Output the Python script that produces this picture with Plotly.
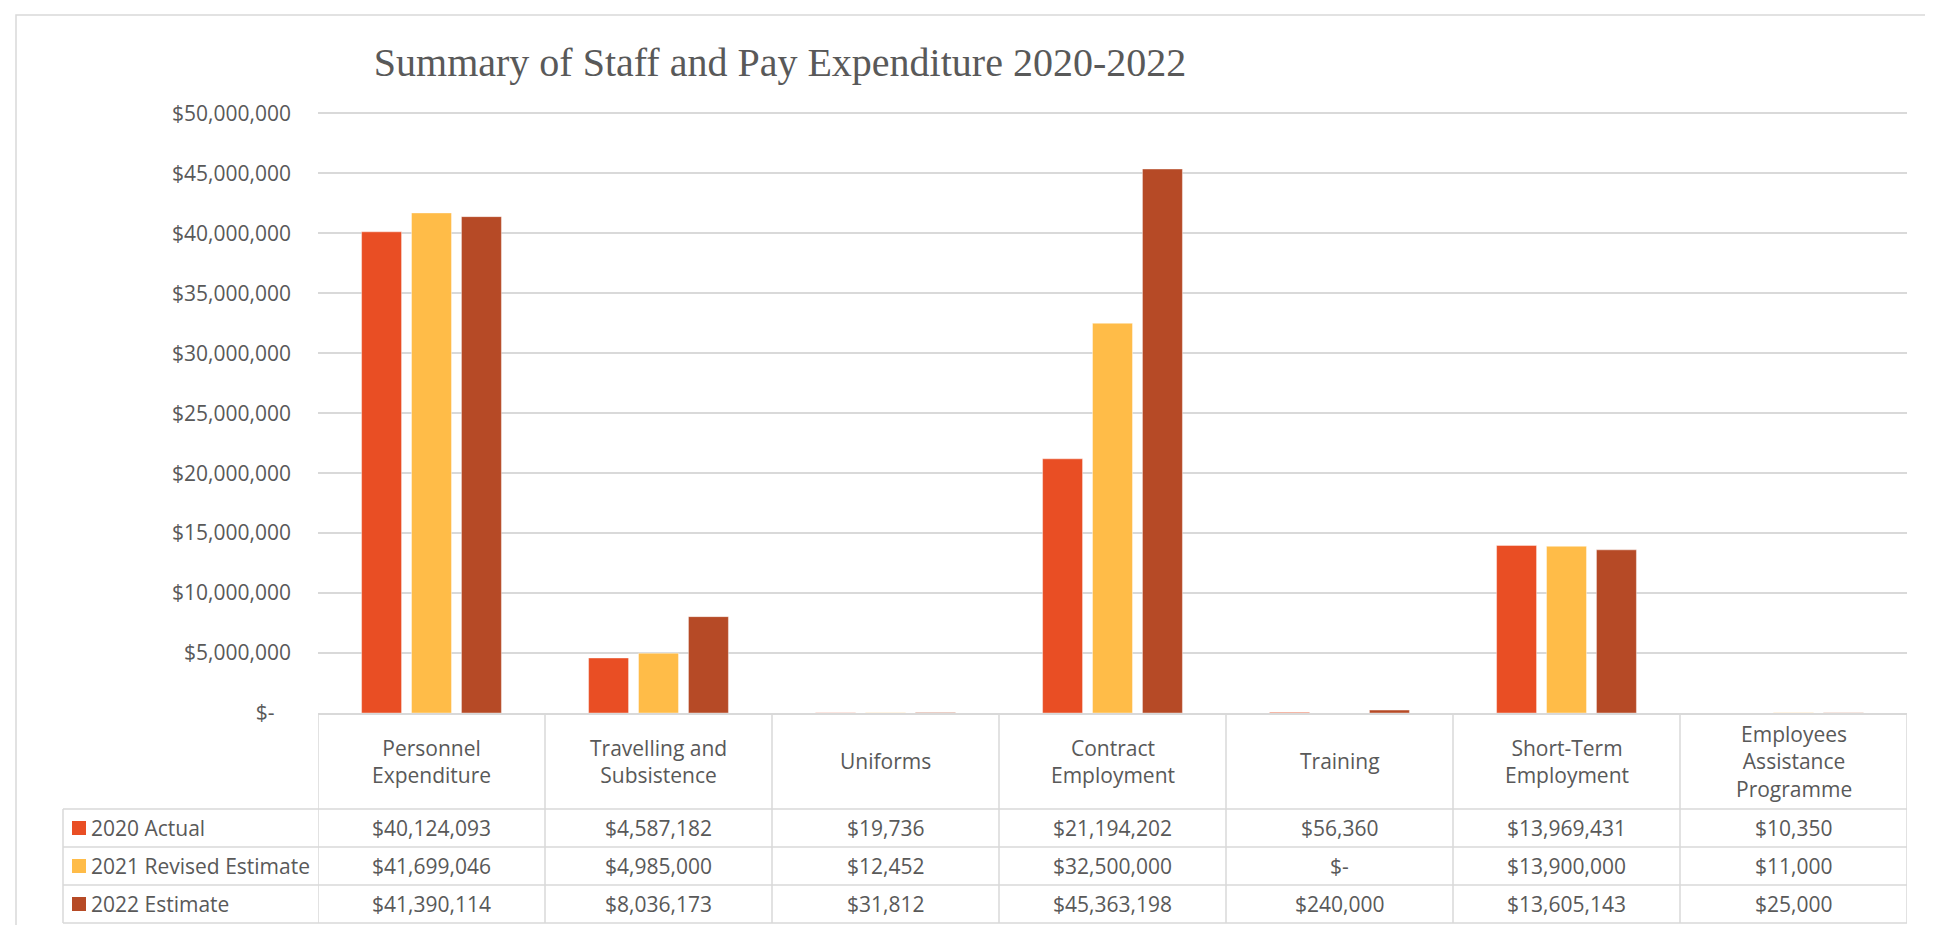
import plotly.graph_objects as go

categories = ["Personnel Expenditure", "Travelling and Subsistence", "Uniforms",
              "Contract Employment", "Training", "Short-Term Employment",
              "Employees Assistance Programme"]
header_labels = ["Personnel<br>Expenditure", "Travelling and<br>Subsistence", "Uniforms",
                 "Contract<br>Employment", "Training", "Short-Term<br>Employment",
                 "Employees<br>Assistance<br>Programme"]
series_names = ["2020 Actual", "2021 Revised Estimate", "2022 Estimate"]
actual_2020 = [40124093, 4587182, 19736, 21194202, 56360, 13969431, 10350]
revised_2021 = [41699046, 4985000, 12452, 32500000, 0, 13900000, 11000]
estimate_2022 = [41390114, 8036173, 31812, 45363198, 240000, 13605143, 25000]
y_ticks = [0, 5000000, 10000000, 15000000, 20000000, 25000000,
           30000000, 35000000, 40000000, 45000000, 50000000]

colors = ["#E94E24", "#FFBC48", "#B64A26"]
series = [actual_2020, revised_2021, estimate_2022]

TEXT = "#595959"
GRID = "#D9D9D9"
FONT = "Open Sans"

# pixel layout of the plot area (top padded a bit so plotly keeps the 50M gridline)
W, H = 1933, 925
PL, PR, PT, PB = 310, 1899, 103, 705
Y_MAX = 50200000


def money(v):
    return "$-" if v == 0 else "${:,}".format(v)


def py(pix):
    return (PB - pix) / (PB - PT)


def px(pix):
    return (pix - PL) / (PR - PL)


fig = go.Figure()
for name, vals, col in zip(series_names, series, colors):
    fig.add_trace(go.Bar(
        x=categories, y=vals, name=name,
        marker=dict(color=col, line=dict(color="rgba(255,255,255,0.5)", width=0.8)),
    ))

ticktext = [money(v) if v else "$-\u00a0\u00a0\u00a0" for v in y_ticks]

# data table under the chart
row_lines = [801, 839, 877, 915]
row_centers = [820, 858, 896]
shapes = []
for yl in row_lines:
    shapes.append(dict(type="line", xref="paper", yref="paper",
                       x0=px(55), x1=1, y0=py(yl), y1=py(yl),
                       line=dict(color=GRID, width=1.5)))
shapes.append(dict(type="line", xref="paper", yref="paper",
                   x0=px(55), x1=px(55), y0=py(801), y1=py(915),
                   line=dict(color=GRID, width=1.5)))
for i in range(len(categories) + 1):
    shapes.append(dict(type="line", xref="x", yref="paper",
                       x0=i - 0.5, x1=i - 0.5, y0=py(PB), y1=py(915),
                       line=dict(color=GRID, width=1.5)))
# outer chart border
shapes.append(dict(type="rect", xref="paper", yref="paper",
                   x0=px(8), x1=px(1926), y0=py(7), y1=py(940),
                   line=dict(color=GRID, width=1.5)))

annotations = []
for cat, lab in zip(categories, header_labels):
    annotations.append(dict(x=cat, xref="x", y=py(753), yref="paper",
                            text=lab, showarrow=False, yanchor="middle"))
for r, (name, vals, col) in enumerate(zip(series_names, series, colors)):
    for cat, v in zip(categories, vals):
        annotations.append(dict(x=cat, xref="x", y=py(row_centers[r]), yref="paper",
                                text=money(v), showarrow=False, yanchor="middle"))
    # legend key square + series name
    shapes.append(dict(type="rect", xref="paper", yref="paper",
                       x0=px(64), x1=px(78),
                       y0=py(row_centers[r] - 7), y1=py(row_centers[r] + 7),
                       fillcolor=col, line=dict(width=0)))
    annotations.append(dict(x=px(81), xref="paper", y=py(row_centers[r]), yref="paper",
                            xanchor="left", yanchor="middle", showarrow=False,
                            text=name))

fig.update_layout(
    width=W, height=H,
    margin=dict(l=PL, r=W - PR, t=PT, b=H - PB),
    paper_bgcolor="white", plot_bgcolor="white",
    font=dict(family=FONT, size=21, color=TEXT),
    title=dict(text="Summary of Staff and Pay Expenditure 2020-2022",
               x=772 / W, xanchor="center", y=1 - 54 / H, yanchor="middle",
               font=dict(family="Liberation Serif", size=40, color=TEXT)),
    barmode="group", bargap=0.34, bargroupgap=0.2,
    showlegend=False,
    xaxis=dict(showticklabels=False, showgrid=False, zeroline=False,
               showline=True, linecolor=GRID, linewidth=1.5,
               range=[-0.5, len(categories) - 0.5]),
    yaxis=dict(range=[0, Y_MAX], tickvals=y_ticks, ticktext=ticktext,
               showgrid=True, gridcolor=GRID, gridwidth=1.5, zeroline=False,
               ticks="", ticklabelstandoff=26, fixedrange=True),
    shapes=shapes, annotations=annotations,
)

fig.write_html("out.html")
